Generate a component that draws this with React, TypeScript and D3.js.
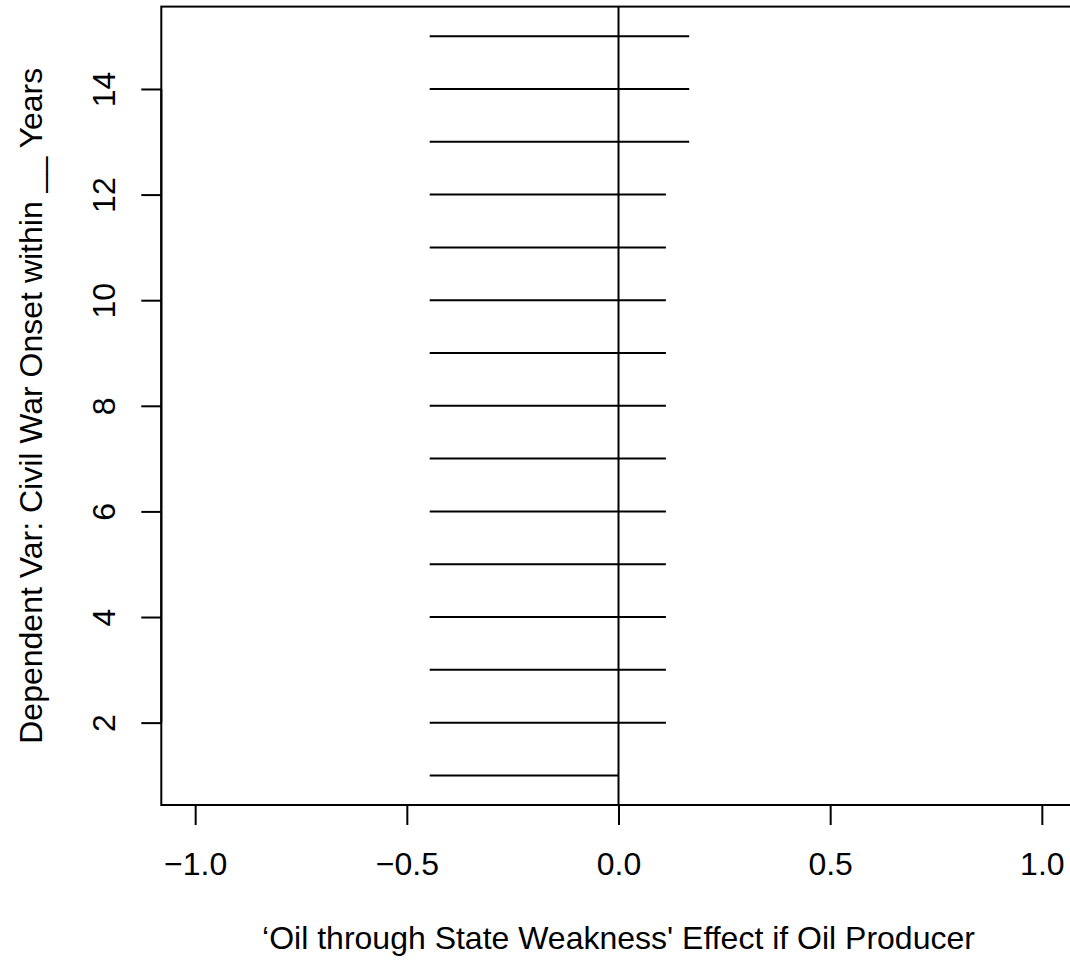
import React, { useEffect, useRef } from 'react';
import * as d3 from 'd3';

// years of the dependent variable (civil war onset within N years)
const years = [1, 2, 3, 4, 5, 6, 7, 8, 9, 10, 11, 12, 13, 14, 15];
// lower / upper bounds of the effect interval
const lower = [-0.446, -0.446, -0.446, -0.446, -0.446, -0.446, -0.446, -0.446, -0.446, -0.446, -0.446, -0.446, -0.446, -0.446, -0.446];
const upper = [0, 0.112, 0.112, 0.112, 0.112, 0.112, 0.112, 0.112, 0.112, 0.112, 0.112, 0.112, 0.167, 0.167, 0.167];

const xTicks = [-1, -0.5, 0, 0.5, 1];
const yTicks = [2, 4, 6, 8, 10, 12, 14];
const xLabel = "\u2018Oil through State Weakness' Effect if Oil Producer";
const yLabel = 'Dependent Var: Civil War Onset within __ Years';

const W = 1070;
const H = 961;
const FONT = '"Liberation Sans", Arial, Helvetica, sans-serif';
const FS = 32;

const App = () => {
  const svgRef = useRef(null);

  useEffect(() => {
    const svg = d3.select(svgRef.current);
    svg.selectAll('*').remove();

    // R style: data range extended by 4% on each side
    const x = d3.scaleLinear().domain([-1.08, 1.08]).range([161.3, 1075.7]);
    const y = d3.scaleLinear().domain([0.44, 15.56]).range([805, 6.6]);
    const [x0, x1] = x.range();
    const [yb, yt] = y.range();

    svg.append('rect')
      .attr('width', W).attr('height', H).attr('fill', '#fff');

    // interval segments
    svg.append('g')
      .selectAll('line')
      .data(years)
      .join('line')
      .attr('x1', (d, i) => x(lower[i]))
      .attr('x2', (d, i) => x(upper[i]))
      .attr('y1', d => y(d))
      .attr('y2', d => y(d))
      .attr('stroke', '#000')
      .attr('stroke-width', 2);

    // abline(v = 0)
    svg.append('line')
      .attr('x1', x(0)).attr('x2', x(0))
      .attr('y1', yt).attr('y2', yb)
      .attr('stroke', '#000').attr('stroke-width', 2);

    // box
    svg.append('rect')
      .attr('x', x0).attr('y', yt)
      .attr('width', x1 - x0).attr('height', yb - yt)
      .attr('fill', 'none').attr('stroke', '#000').attr('stroke-width', 2);

    // bottom axis
    const gx = svg.append('g')
      .attr('transform', `translate(0,${yb})`)
      .call(d3.axisBottom(x).tickValues(xTicks).tickSize(20)
        .tickFormat(d => d3.format('.1f')(d).replace('-', '\u2212')));
    gx.select('.domain').remove();
    gx.append('line')
      .attr('x1', x(xTicks[0])).attr('x2', x(xTicks[xTicks.length - 1]))
      .attr('stroke', '#000').attr('stroke-width', 2);
    gx.selectAll('.tick line').attr('stroke-width', 2);
    gx.selectAll('.tick text')
      .attr('y', 70).attr('dy', null)
      .attr('font-size', FS).attr('font-family', FONT).attr('fill', '#000');

    // left axis
    const gy = svg.append('g')
      .attr('transform', `translate(${x0},0)`)
      .call(d3.axisLeft(y).tickValues(yTicks).tickSize(20));
    gy.select('.domain').remove();
    gy.append('line')
      .attr('y1', y(yTicks[0])).attr('y2', y(yTicks[yTicks.length - 1]))
      .attr('stroke', '#000').attr('stroke-width', 2);
    gy.selectAll('.tick line').attr('stroke-width', 2);
    gy.selectAll('.tick text')
      .attr('x', null).attr('dy', null)
      .attr('transform', 'translate(-46,0) rotate(-90)')
      .attr('text-anchor', 'middle')
      .attr('font-size', FS).attr('font-family', FONT).attr('fill', '#000');

    // axis titles
    svg.append('text')
      .attr('x', (x0 + x1) / 2).attr('y', yb + 144)
      .attr('text-anchor', 'middle')
      .attr('font-size', FS).attr('font-family', FONT)
      .text(xLabel);

    svg.append('text')
      .attr('transform', `translate(${x0 - 119},${(yt + yb) / 2}) rotate(-90)`)
      .attr('text-anchor', 'middle')
      .attr('font-size', FS).attr('font-family', FONT)
      .text(yLabel);
  }, []);

  return (
    <svg ref={svgRef} width={W} height={H}
      style={{ position: 'absolute', left: 0, top: 0, display: 'block' }} />
  );
};

export default App;
